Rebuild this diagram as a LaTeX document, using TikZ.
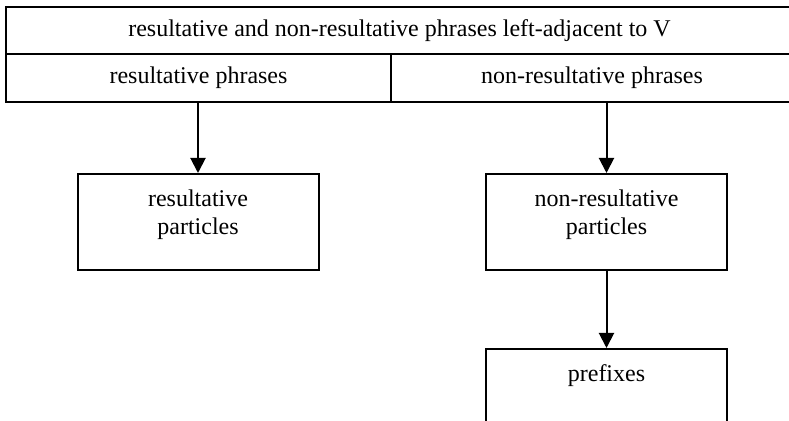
\documentclass[tikz,border=0pt]{standalone}
\usepackage{fontspec}
\setmainfont{Liberation Serif}
\usetikzlibrary{arrows.meta}
\begin{document}
\begin{tikzpicture}[x=0.5pt, y=-0.5pt,
    cell/.style={draw, line width=1pt, inner sep=0pt, font=\fontsize{12}{14}\selectfont},
    partbox/.style={draw, line width=1pt, minimum width=120.5pt, minimum height=48pt, inner sep=0pt},
    boxtext/.style={anchor=north, align=center, inner sep=0pt, font=\fontsize{12}{14}\selectfont},
    down/.style={line width=1pt, -{Triangle[length=7.5pt, width=7.5pt]}}]
  \useasboundingbox (0,0) rectangle (789,421);
  % Cabecalho e as duas colunas
  \node[cell, minimum width=393.5pt, minimum height=23.5pt] (head) at (399.5,30.5)
    {resultative and non-resultative phrases left-adjacent to V};
  \node[cell, minimum width=192.5pt, minimum height=24pt] (rphr) at (198.5,78) {resultative phrases};
  \node[cell, minimum width=201pt, minimum height=24pt] (nphr) at (592,78) {non-resultative phrases};
  % Caixas de baixo
  \node[partbox] (rpart) at (198,222) {};
  \node[partbox] (npart) at (606.5,222) {};
  \node[partbox] (pref) at (606.5,397) {};
  \node[boxtext] (rpartT) at ([yshift=-8.2pt]rpart.north) {resultative\\particles};
  \node[boxtext] (npartT) at ([yshift=-8.2pt]npart.north) {non-resultative\\particles};
  \node[boxtext] (prefT) at ([yshift=-8.2pt]pref.north) {prefixes};
  % Setas
  \draw[down] (rphr.south -| rpart.north) -- (rpart.north);
  \draw[down] (nphr.south -| npart.north) -- (npart.north);
  \draw[down] (npart.south) -- (pref.north);
\end{tikzpicture}
\end{document}
